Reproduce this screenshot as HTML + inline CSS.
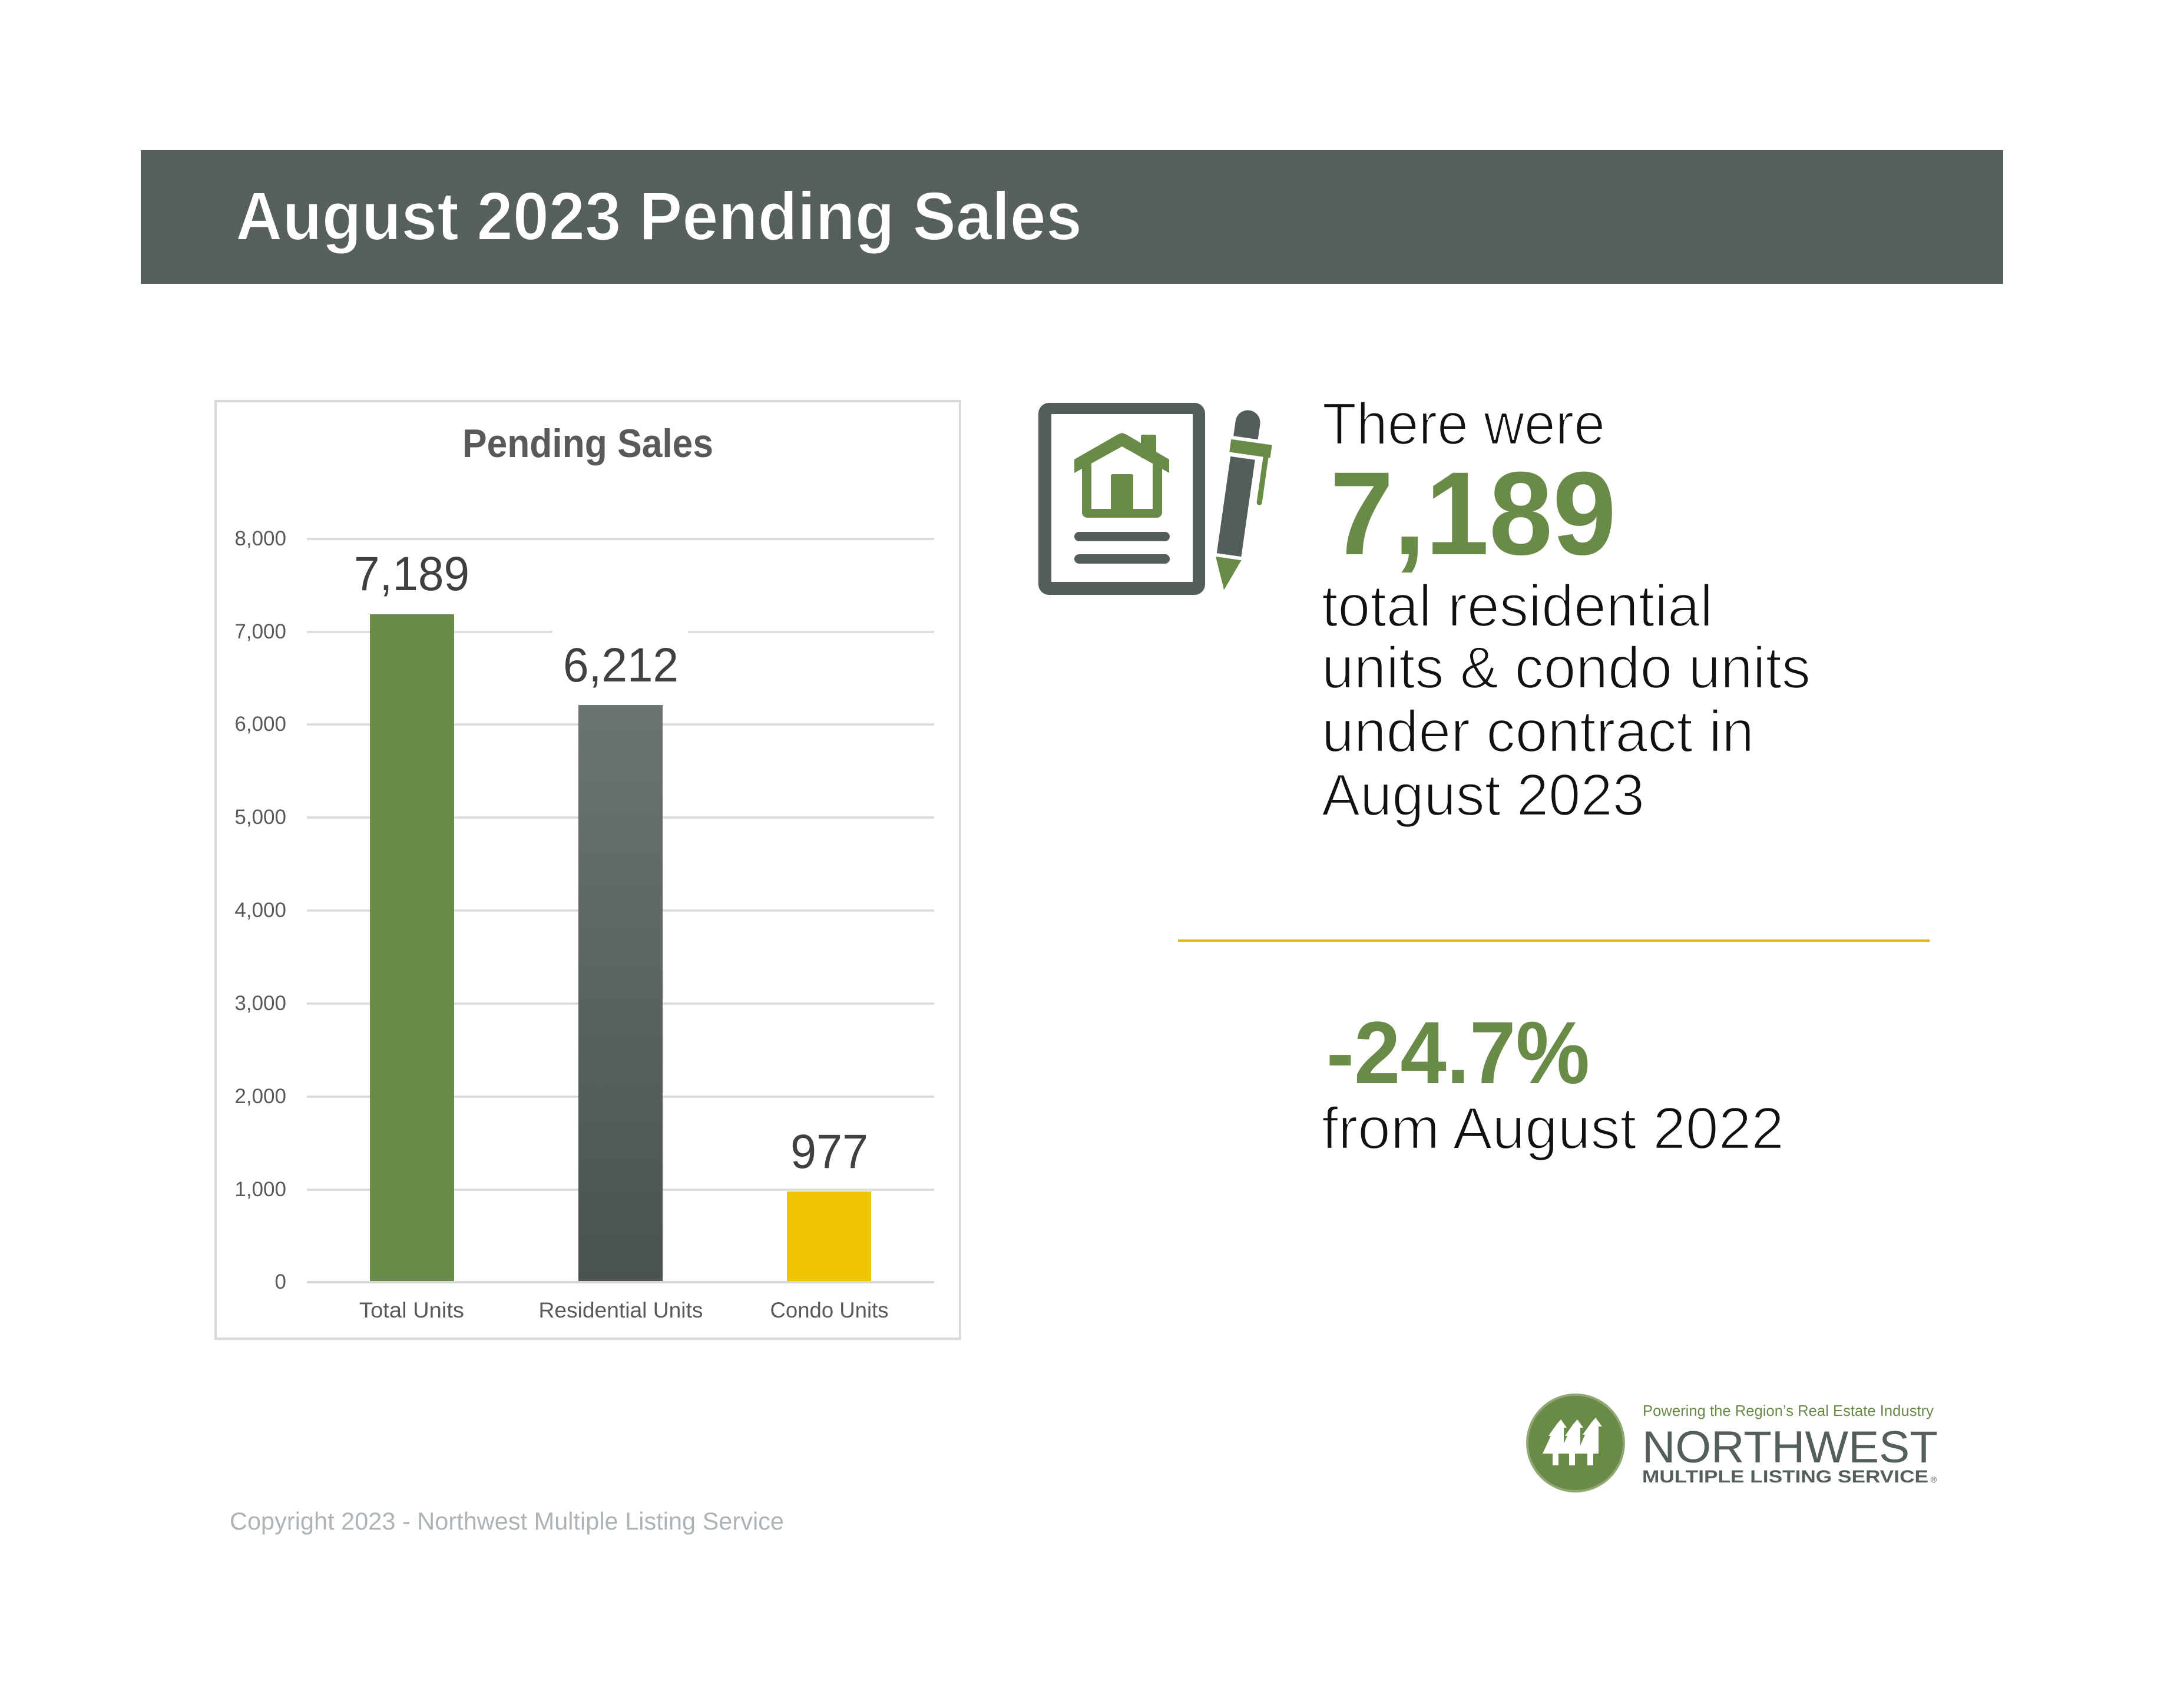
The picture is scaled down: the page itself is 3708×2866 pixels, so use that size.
<!DOCTYPE html>
<html>
<head>
<meta charset="utf-8">
<style>
  html,body{margin:0;padding:0;background:#fff;}
  svg{display:block;}
  text{font-family:"Liberation Sans", Arial, sans-serif;}
</style>
</head>
<body>
<svg xmlns="http://www.w3.org/2000/svg" width="3708" height="2866" viewBox="0 0 3708 2866">
  <defs>
    <linearGradient id="resg" x1="0" y1="0" x2="0" y2="1">
      <stop offset="0" stop-color="#6c7471"/>
      <stop offset="1" stop-color="#4a5250"/>
    </linearGradient>
  </defs>
  <rect x="0" y="0" width="3708" height="2866" fill="#ffffff"/>

  <!-- Banner -->
  <rect x="239" y="255" width="3162" height="227" fill="#57605e"/>
  <text x="400" y="407" font-size="116" font-weight="bold" fill="#ffffff" textLength="1437" lengthAdjust="spacingAndGlyphs" stroke="#57605e" stroke-width="2">August 2023 Pending Sales</text>

  <!-- Chart box -->
  <rect x="366" y="681" width="1264" height="1592" fill="#ffffff" stroke="#d9d9d9" stroke-width="4"/>
  <text x="785" y="776" font-size="68" font-weight="bold" fill="#595959" textLength="426" lengthAdjust="spacingAndGlyphs">Pending Sales</text>

  <!-- gridlines -->
  <g stroke="#d9d9d9" stroke-width="3.5">
    <line x1="521" y1="915" x2="1586" y2="915"/>
    <line x1="521" y1="1073" x2="1586" y2="1073"/>
    <line x1="521" y1="1230" x2="1586" y2="1230"/>
    <line x1="521" y1="1388" x2="1586" y2="1388"/>
    <line x1="521" y1="1546" x2="1586" y2="1546"/>
    <line x1="521" y1="1704" x2="1586" y2="1704"/>
    <line x1="521" y1="1862" x2="1586" y2="1862"/>
    <line x1="521" y1="2020" x2="1586" y2="2020"/>
  </g>
  <!-- label background for 6,212 -->
  <rect x="938" y="1055" width="230" height="35" fill="#ffffff"/>

  <!-- y labels -->
  <g font-size="35" fill="#595959" text-anchor="end">
    <text x="486" y="926">8,000</text>
    <text x="486" y="1084">7,000</text>
    <text x="486" y="1241">6,000</text>
    <text x="486" y="1399">5,000</text>
    <text x="486" y="1557">4,000</text>
    <text x="486" y="1715">3,000</text>
    <text x="486" y="1873">2,000</text>
    <text x="486" y="2031">1,000</text>
    <text x="486" y="2188">0</text>
  </g>

  <!-- bars -->
  <rect x="628" y="1043" width="143" height="1134" fill="#6a8a48"/>
  <rect x="982" y="1197" width="143" height="980" fill="url(#resg)"/>
  <rect x="1336" y="2023" width="143" height="154" fill="#f0c400"/>
  <line x1="521" y1="2177" x2="1586" y2="2177" stroke="#d9d9d9" stroke-width="4"/>

  <!-- data labels -->
  <g font-size="82" fill="#404040" text-anchor="middle">
    <text x="699" y="1002" textLength="196" lengthAdjust="spacingAndGlyphs">7,189</text>
    <text x="1054" y="1157" textLength="196" lengthAdjust="spacingAndGlyphs">6,212</text>
    <text x="1408" y="1983" textLength="132" lengthAdjust="spacingAndGlyphs">977</text>
  </g>

  <!-- x labels -->
  <g font-size="37" fill="#595959" text-anchor="middle">
    <text x="699" y="2237" textLength="178" lengthAdjust="spacingAndGlyphs">Total Units</text>
    <text x="1054" y="2237" textLength="279" lengthAdjust="spacingAndGlyphs">Residential Units</text>
    <text x="1408" y="2237" textLength="201" lengthAdjust="spacingAndGlyphs">Condo Units</text>
  </g>

  <!-- Icon: document -->
  <rect x="1763" y="684" width="283" height="326" rx="18" fill="#535d5b"/>
  <rect x="1785" y="703" width="240" height="285" fill="#ffffff"/>
  <!-- house -->
  <rect x="1837" y="785" width="136" height="94" rx="9" fill="#6a8a48"/>
  <polygon points="1853,864 1853,786 1905,757 1957,786 1957,864" fill="#ffffff"/>
  <rect x="1886" y="805" width="38" height="62" rx="3" fill="#6a8a48"/>
  <rect x="1937" y="738" width="26" height="40" rx="3" fill="#6a8a48"/>
  <polygon points="1824,780 1899,737 1905,735 1911,737 1985,780 1985,803 1905,758 1824,803" fill="#6a8a48"/>
  <!-- lines -->
  <rect x="1824" y="903" width="162" height="16" rx="8" fill="#535d5b"/>
  <rect x="1824" y="941" width="162" height="16" rx="8" fill="#535d5b"/>
  <!-- pen -->
  <g transform="rotate(8.1 2098 862)">
    <path d="M2077,742 V716 A21,21 0 0 1 2119,716 V742 Z" fill="#535d5b"/>
    <rect x="2074" y="748" width="70" height="22" fill="#6a8a48"/>
    <rect x="2132" y="748" width="9" height="104" rx="4" fill="#6a8a48"/>
    <rect x="2077" y="777" width="42" height="166" fill="#535d5b"/>
    <polygon points="2076,949 2120,949 2098,1003" fill="#6a8a48"/>
  </g>

  <!-- Right text -->
  <text x="2245" y="754" font-size="100" fill="#111111" textLength="480" lengthAdjust="spacingAndGlyphs" stroke="#ffffff" stroke-width="2.5">There were</text>
  <text x="2258" y="941" font-size="201" font-weight="bold" fill="#6a8a48" textLength="486" lengthAdjust="spacingAndGlyphs">7,189</text>
  <g font-size="100" fill="#111111" stroke="#ffffff" stroke-width="2.5">
    <text x="2244" y="1063" textLength="664" lengthAdjust="spacingAndGlyphs">total residential</text>
    <text x="2244" y="1168" textLength="830" lengthAdjust="spacingAndGlyphs">units &amp; condo units</text>
    <text x="2244" y="1276" textLength="734" lengthAdjust="spacingAndGlyphs">under contract in</text>
    <text x="2244" y="1384" textLength="548" lengthAdjust="spacingAndGlyphs">August 2023</text>
  </g>

  <rect x="2000" y="1595" width="1276" height="4" fill="#e6be12"/>

  <text x="2252" y="1839" font-size="150" font-weight="bold" fill="#6a8a48" textLength="447" lengthAdjust="spacingAndGlyphs">-24.7%</text>
  <text x="2244" y="1950" font-size="100" fill="#111111" textLength="785" lengthAdjust="spacingAndGlyphs" stroke="#ffffff" stroke-width="2.5">from August 2022</text>

  <!-- Logo -->
  <circle cx="2675" cy="2450" r="82" fill="#6a8a48" stroke="#8fa872" stroke-width="4"/>
  <g fill="#ffffff">
    <polygon points="2650,2410 2660,2424 2655,2424 2655,2468 2646,2468 2646,2488 2636,2488 2636,2468 2619,2468 2633,2438 2629,2438 2643,2418"/>
    <polygon points="2678,2410 2688,2424 2683,2424 2683,2468 2674,2468 2674,2488 2664,2488 2664,2468 2647,2468 2661,2438 2657,2438 2671,2418"/>
    <polygon points="2709,2407 2720,2422 2714,2422 2714,2468 2705,2468 2705,2488 2695,2488 2695,2468 2677,2468 2691,2436 2687,2436 2702,2415"/>
  </g>
  <text x="2789" y="2404" font-size="26" fill="#6a8a48" textLength="494" lengthAdjust="spacingAndGlyphs">Powering the Region’s Real Estate Industry</text>
  <text x="2788" y="2483" font-size="76" fill="#545e5c" textLength="502" lengthAdjust="spacingAndGlyphs">NORTHWEST</text>
  <text x="2788" y="2517" font-size="30" font-weight="bold" fill="#545e5c" textLength="486" lengthAdjust="spacingAndGlyphs">MULTIPLE LISTING SERVICE</text>
  <text x="3278" y="2517" font-size="14" fill="#545e5c">®</text>

  <!-- Copyright -->
  <text x="390" y="2597" font-size="42" fill="#adb3b6" textLength="941" lengthAdjust="spacingAndGlyphs">Copyright 2023 - Northwest Multiple Listing Service</text>
</svg>
</body>
</html>
